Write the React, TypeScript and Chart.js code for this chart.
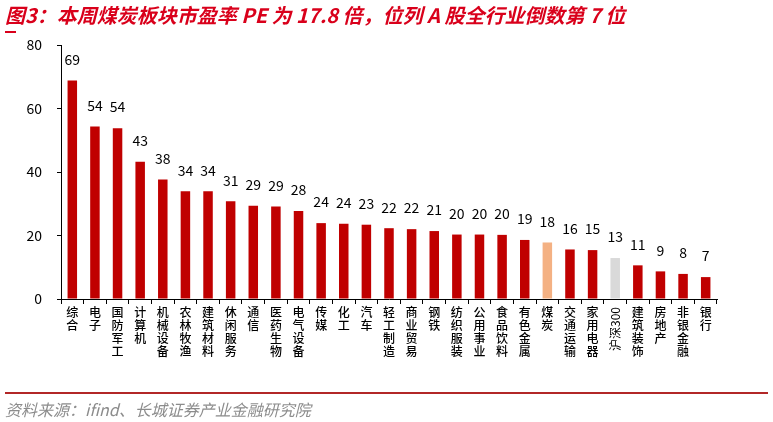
import React, { useEffect, useRef } from "react";
import { Chart, registerables } from "chart.js";

Chart.register(...registerables);

const categories: string[] = [
  "综合", "电子", "国防军工", "计算机", "机械设备", "农林牧渔", "建筑材料", "休闲服务",
  "通信", "医药生物", "电气设备", "传媒", "化工", "汽车", "轻工制造", "商业贸易",
  "钢铁", "纺织服装", "公用事业", "食品饮料", "有色金属", "煤炭", "交通运输", "家用电器",
  "沪深300", "建筑装饰", "房地产", "非银金融", "银行",
];

const peValues: number[] = [
  68.8, 54.3, 53.8, 43.2, 37.6, 33.9, 33.9, 30.8,
  29.4, 29.1, 27.7, 23.9, 23.7, 23.4, 22.3, 22.0,
  21.4, 20.3, 20.3, 20.2, 18.6, 17.8, 15.6, 15.4,
  12.9, 10.6, 8.7, 7.9, 6.9,
];

const yTicks: number[] = [0, 20, 40, 60, 80];

const RED = "#C00000";
const COAL = "#F4B183";
const HS300 = "#D9D9D9";

const ROTATED_LABEL = "沪深300";

export default function App() {
  const canvasRef = useRef<HTMLCanvasElement | null>(null);

  useEffect(() => {
    const canvas = canvasRef.current;
    if (!canvas) return;

    const colors = categories.map((c) =>
      c === "煤炭" ? COAL : c === ROTATED_LABEL ? HS300 : RED
    );

    const labels = categories.map((c) =>
      c === ROTATED_LABEL ? [""] : Array.from(c)
    );

    const valueLabelPlugin = {
      id: "valueLabels",
      afterDatasetsDraw(chart: any) {
        const ctx = chart.ctx;
        const meta = chart.getDatasetMeta(0);
        ctx.save();
        ctx.fillStyle = "#000";
        ctx.font = "14px 'Noto Sans CJK SC', 'Noto Sans', sans-serif";
        ctx.textAlign = "center";
        ctx.textBaseline = "middle";
        meta.data.forEach((el: any, i: number) => {
          ctx.fillText(String(Math.round(peValues[i])), el.x, el.y - 21);
        });
        ctx.restore();
      },
    };

    const rotatedLabelPlugin = {
      id: "rotatedLabel",
      afterDraw(chart: any) {
        const idx = categories.indexOf(ROTATED_LABEL);
        if (idx < 0) return;
        const xScale = chart.scales.x;
        const x = xScale.getPixelForValue(idx);
        const top = chart.chartArea.bottom + 8;
        const ctx = chart.ctx;
        ctx.save();
        ctx.translate(x, top);
        ctx.rotate(-Math.PI / 2);
        ctx.fillStyle = "#000";
        ctx.font = "12px 'Noto Sans CJK SC', sans-serif";
        ctx.textAlign = "right";
        ctx.textBaseline = "middle";
        ctx.fillText(ROTATED_LABEL, 0, 0);
        ctx.restore();
      },
    };

    const chart = new Chart(canvas, {
      type: "bar",
      data: {
        labels,
        datasets: [
          {
            data: peValues,
            backgroundColor: colors,
            borderWidth: 0,
            categoryPercentage: 1,
            barPercentage: 0.42,
          },
        ],
      },
      options: {
        responsive: false,
        animation: false,
        layout: { padding: { top: 45, right: 56, left: 0, bottom: 0 } },
        plugins: {
          legend: { display: false },
          tooltip: { enabled: false },
          title: { display: false },
        },
        scales: {
          x: {
            offset: true,
            grid: {
              display: true,
              offset: true,
              drawOnChartArea: false,
              drawTicks: true,
              tickLength: 5,
              color: "#000",
            },
            border: { display: true, color: "#000", width: 1 },
            ticks: {
              autoSkip: false,
              maxRotation: 0,
              minRotation: 0,
              padding: 2,
              color: "#000",
              font: { family: "'Noto Sans CJK SC', sans-serif", size: 12, weight: "500", lineHeight: 1.08 },
            },
            afterFit(scale: any) {
              scale.height = 123;
            },
          },
          y: {
            min: 0,
            max: 80,
            afterBuildTicks(scale: any) {
              scale.ticks = yTicks.map((v) => ({ value: v }));
            },
            grid: {
              display: true,
              drawOnChartArea: false,
              drawTicks: true,
              tickLength: 4,
              color: "#000",
            },
            border: { display: true, color: "#000", width: 1 },
            ticks: {
              padding: 15,
              color: "#000",
              font: { family: "'Noto Sans CJK SC', 'Noto Sans', sans-serif", size: 14 },
            },
            afterFit(scale: any) {
              scale.width = 61;
            },
          },
        },
      },
      plugins: [valueLabelPlugin, rotatedLabelPlugin],
    });

    return () => {
      chart.destroy();
    };
  }, []);

  return (
    <div
      style={{
        position: "absolute",
        left: 0,
        top: 0,
        width: 773,
        height: 422,
        background: "#fff",
        overflow: "hidden",
      }}
    >
      <canvas
        ref={canvasRef}
        width={773}
        height={422}
        style={{ position: "absolute", left: 0, top: 0 }}
      />
      <div
        style={{
          position: "absolute",
          left: 5,
          top: 2,
          fontFamily: "'Noto Sans CJK SC', sans-serif",
          fontSize: 20,
          fontWeight: 700,
          fontStyle: "italic",
          color: "#D9001B",
          lineHeight: "26px",
          whiteSpace: "nowrap",
        }}
      >
        图3：本周煤炭板块市盈率 PE 为 17.8 倍，位列 A 股全行业倒数第 7 位
      </div>
      <div
        style={{
          position: "absolute",
          left: 5,
          top: 31,
          width: 11,
          height: 1.5,
          background: "#D9001B",
        }}
      />
      <div
        style={{
          position: "absolute",
          left: 5,
          top: 392,
          width: 763,
          height: 1.5,
          background: "#B22727",
        }}
      />
      <div
        style={{
          position: "absolute",
          left: 5,
          top: 397,
          fontFamily: "'Noto Sans CJK SC', sans-serif",
          fontSize: 16,
          fontStyle: "italic",
          color: "#8C8C8C",
          lineHeight: "24px",
          whiteSpace: "nowrap",
        }}
      >
        资料来源：ifind、长城证券产业金融研究院
      </div>
    </div>
  );
}
